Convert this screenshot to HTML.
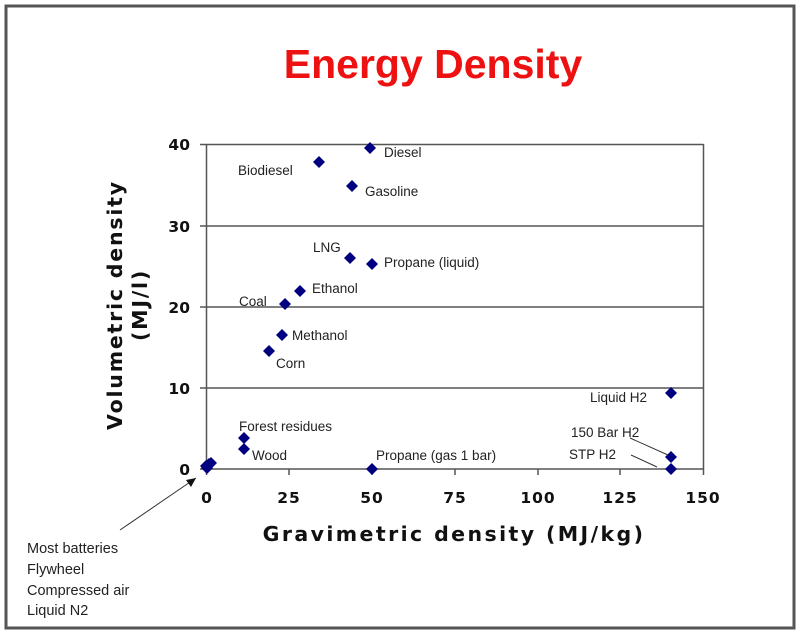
<!DOCTYPE html>
<html><head><style>
html,body{margin:0;padding:0;background:#fff;}
svg{display:block}
</style></head><body>
<svg width="800" height="635" viewBox="0 0 800 635" xmlns="http://www.w3.org/2000/svg">
<rect x="0" y="0" width="800" height="635" fill="#fff"/>
<rect x="6" y="6" width="788" height="622" fill="none" stroke="#555" stroke-width="3"/>
<text x="433" y="78" text-anchor="middle" font-family="Liberation Sans, sans-serif" font-weight="bold" font-size="41" fill="#ee1111">Energy Density</text>
<g stroke="#555" stroke-width="1.5">
<line x1="200" y1="144.5" x2="703.5" y2="144.5"/>
<line x1="200" y1="226" x2="703.5" y2="226"/>
<line x1="200" y1="307" x2="703.5" y2="307"/>
<line x1="200" y1="388" x2="703.5" y2="388"/>
<line x1="200" y1="469" x2="703.5" y2="469"/>
<line x1="206.5" y1="144" x2="206.5" y2="475"/>
<line x1="703.5" y1="144" x2="703.5" y2="475"/>
<line x1="289" y1="469" x2="289" y2="475"/>
<line x1="372" y1="469" x2="372" y2="475"/>
<line x1="455" y1="469" x2="455" y2="475"/>
<line x1="538" y1="469" x2="538" y2="475"/>
<line x1="620" y1="469" x2="620" y2="475"/>
</g>
<g font-family="DejaVu Sans, sans-serif" font-weight="bold" font-size="15.5" fill="#111">
<text x="190" y="150" text-anchor="end">40</text>
<text x="190" y="232" text-anchor="end">30</text>
<text x="190" y="313" text-anchor="end">20</text>
<text x="190" y="394" text-anchor="end">10</text>
<text x="190" y="475" text-anchor="end">0</text>
<g text-anchor="middle" letter-spacing="1">
<text x="207" y="503">0</text>
<text x="289" y="503">25</text>
<text x="372" y="503">50</text>
<text x="455" y="503">75</text>
<text x="538" y="503">100</text>
<text x="620" y="503">125</text>
<text x="703" y="503">150</text>
</g>
</g>
<text x="454" y="541" text-anchor="middle" font-family="DejaVu Sans, sans-serif" font-weight="bold" font-size="20.5" letter-spacing="2.4" fill="#111">Gravimetric density (MJ/kg)</text>
<g transform="translate(128,305) rotate(-90)" font-family="DejaVu Sans, sans-serif" font-weight="bold" font-size="20.5" letter-spacing="1.8" fill="#111" text-anchor="middle">
<text x="0" y="-6">Volumetric density</text>
<text x="0" y="19">(MJ/l)</text>
</g>
<g fill="#000080">
<path d="M0,-6 L6,0 L0,6 L-6,0Z" transform="translate(370,148)"/>
<path d="M0,-6 L6,0 L0,6 L-6,0Z" transform="translate(319,162)"/>
<path d="M0,-6 L6,0 L0,6 L-6,0Z" transform="translate(352,186)"/>
<path d="M0,-6 L6,0 L0,6 L-6,0Z" transform="translate(350,258)"/>
<path d="M0,-6 L6,0 L0,6 L-6,0Z" transform="translate(372,264)"/>
<path d="M0,-6 L6,0 L0,6 L-6,0Z" transform="translate(300,291)"/>
<path d="M0,-6 L6,0 L0,6 L-6,0Z" transform="translate(285,304)"/>
<path d="M0,-6 L6,0 L0,6 L-6,0Z" transform="translate(282,335)"/>
<path d="M0,-6 L6,0 L0,6 L-6,0Z" transform="translate(269,351)"/>
<path d="M0,-6 L6,0 L0,6 L-6,0Z" transform="translate(671,393)"/>
<path d="M0,-6 L6,0 L0,6 L-6,0Z" transform="translate(671,457)"/>
<path d="M0,-6 L6,0 L0,6 L-6,0Z" transform="translate(671,469)"/>
<path d="M0,-6 L6,0 L0,6 L-6,0Z" transform="translate(244,438)"/>
<path d="M0,-6 L6,0 L0,6 L-6,0Z" transform="translate(244,449)"/>
<path d="M0,-6 L6,0 L0,6 L-6,0Z" transform="translate(372,469)"/>
<path d="M0,-6 L6,0 L0,6 L-6,0Z" transform="translate(207,468)"/>
<path d="M0,-6 L6,0 L0,6 L-6,0Z" transform="translate(209,464)"/>
<path d="M0,-6 L6,0 L0,6 L-6,0Z" transform="translate(211,463)"/>
<path d="M0,-6 L6,0 L0,6 L-6,0Z" transform="translate(206,466)"/>
</g>
<g stroke="#333" stroke-width="1">
<line x1="630" y1="438" x2="668" y2="455"/>
<line x1="631" y1="455" x2="657" y2="467"/>
<line x1="120" y1="530" x2="196" y2="478"/>
</g>
<path d="M196,478 L186,480 L191,487Z" fill="#111"/>
<g font-family="Liberation Sans, sans-serif" font-size="13.5" fill="#222">
<text x="384" y="157">Diesel</text>
<text x="238" y="175">Biodiesel</text>
<text x="365" y="196">Gasoline</text>
<text x="313" y="252">LNG</text>
<text x="384" y="267">Propane (liquid)</text>
<text x="312" y="293">Ethanol</text>
<text x="239" y="306">Coal</text>
<text x="292" y="340">Methanol</text>
<text x="276" y="368">Corn</text>
<text x="590" y="402">Liquid H2</text>
<text x="571" y="437">150 Bar H2</text>
<text x="569" y="459">STP H2</text>
<text x="239" y="431">Forest residues</text>
<text x="252" y="460">Wood</text>
<text x="376" y="460">Propane (gas 1 bar)</text>
</g>
<g font-family="Liberation Sans, sans-serif" font-size="14.5" fill="#222">
<text x="27" y="553">Most batteries</text>
<text x="27" y="574">Flywheel</text>
<text x="27" y="595">Compressed air</text>
<text x="27" y="615">Liquid N2</text>
</g>
</svg>
</body></html>
